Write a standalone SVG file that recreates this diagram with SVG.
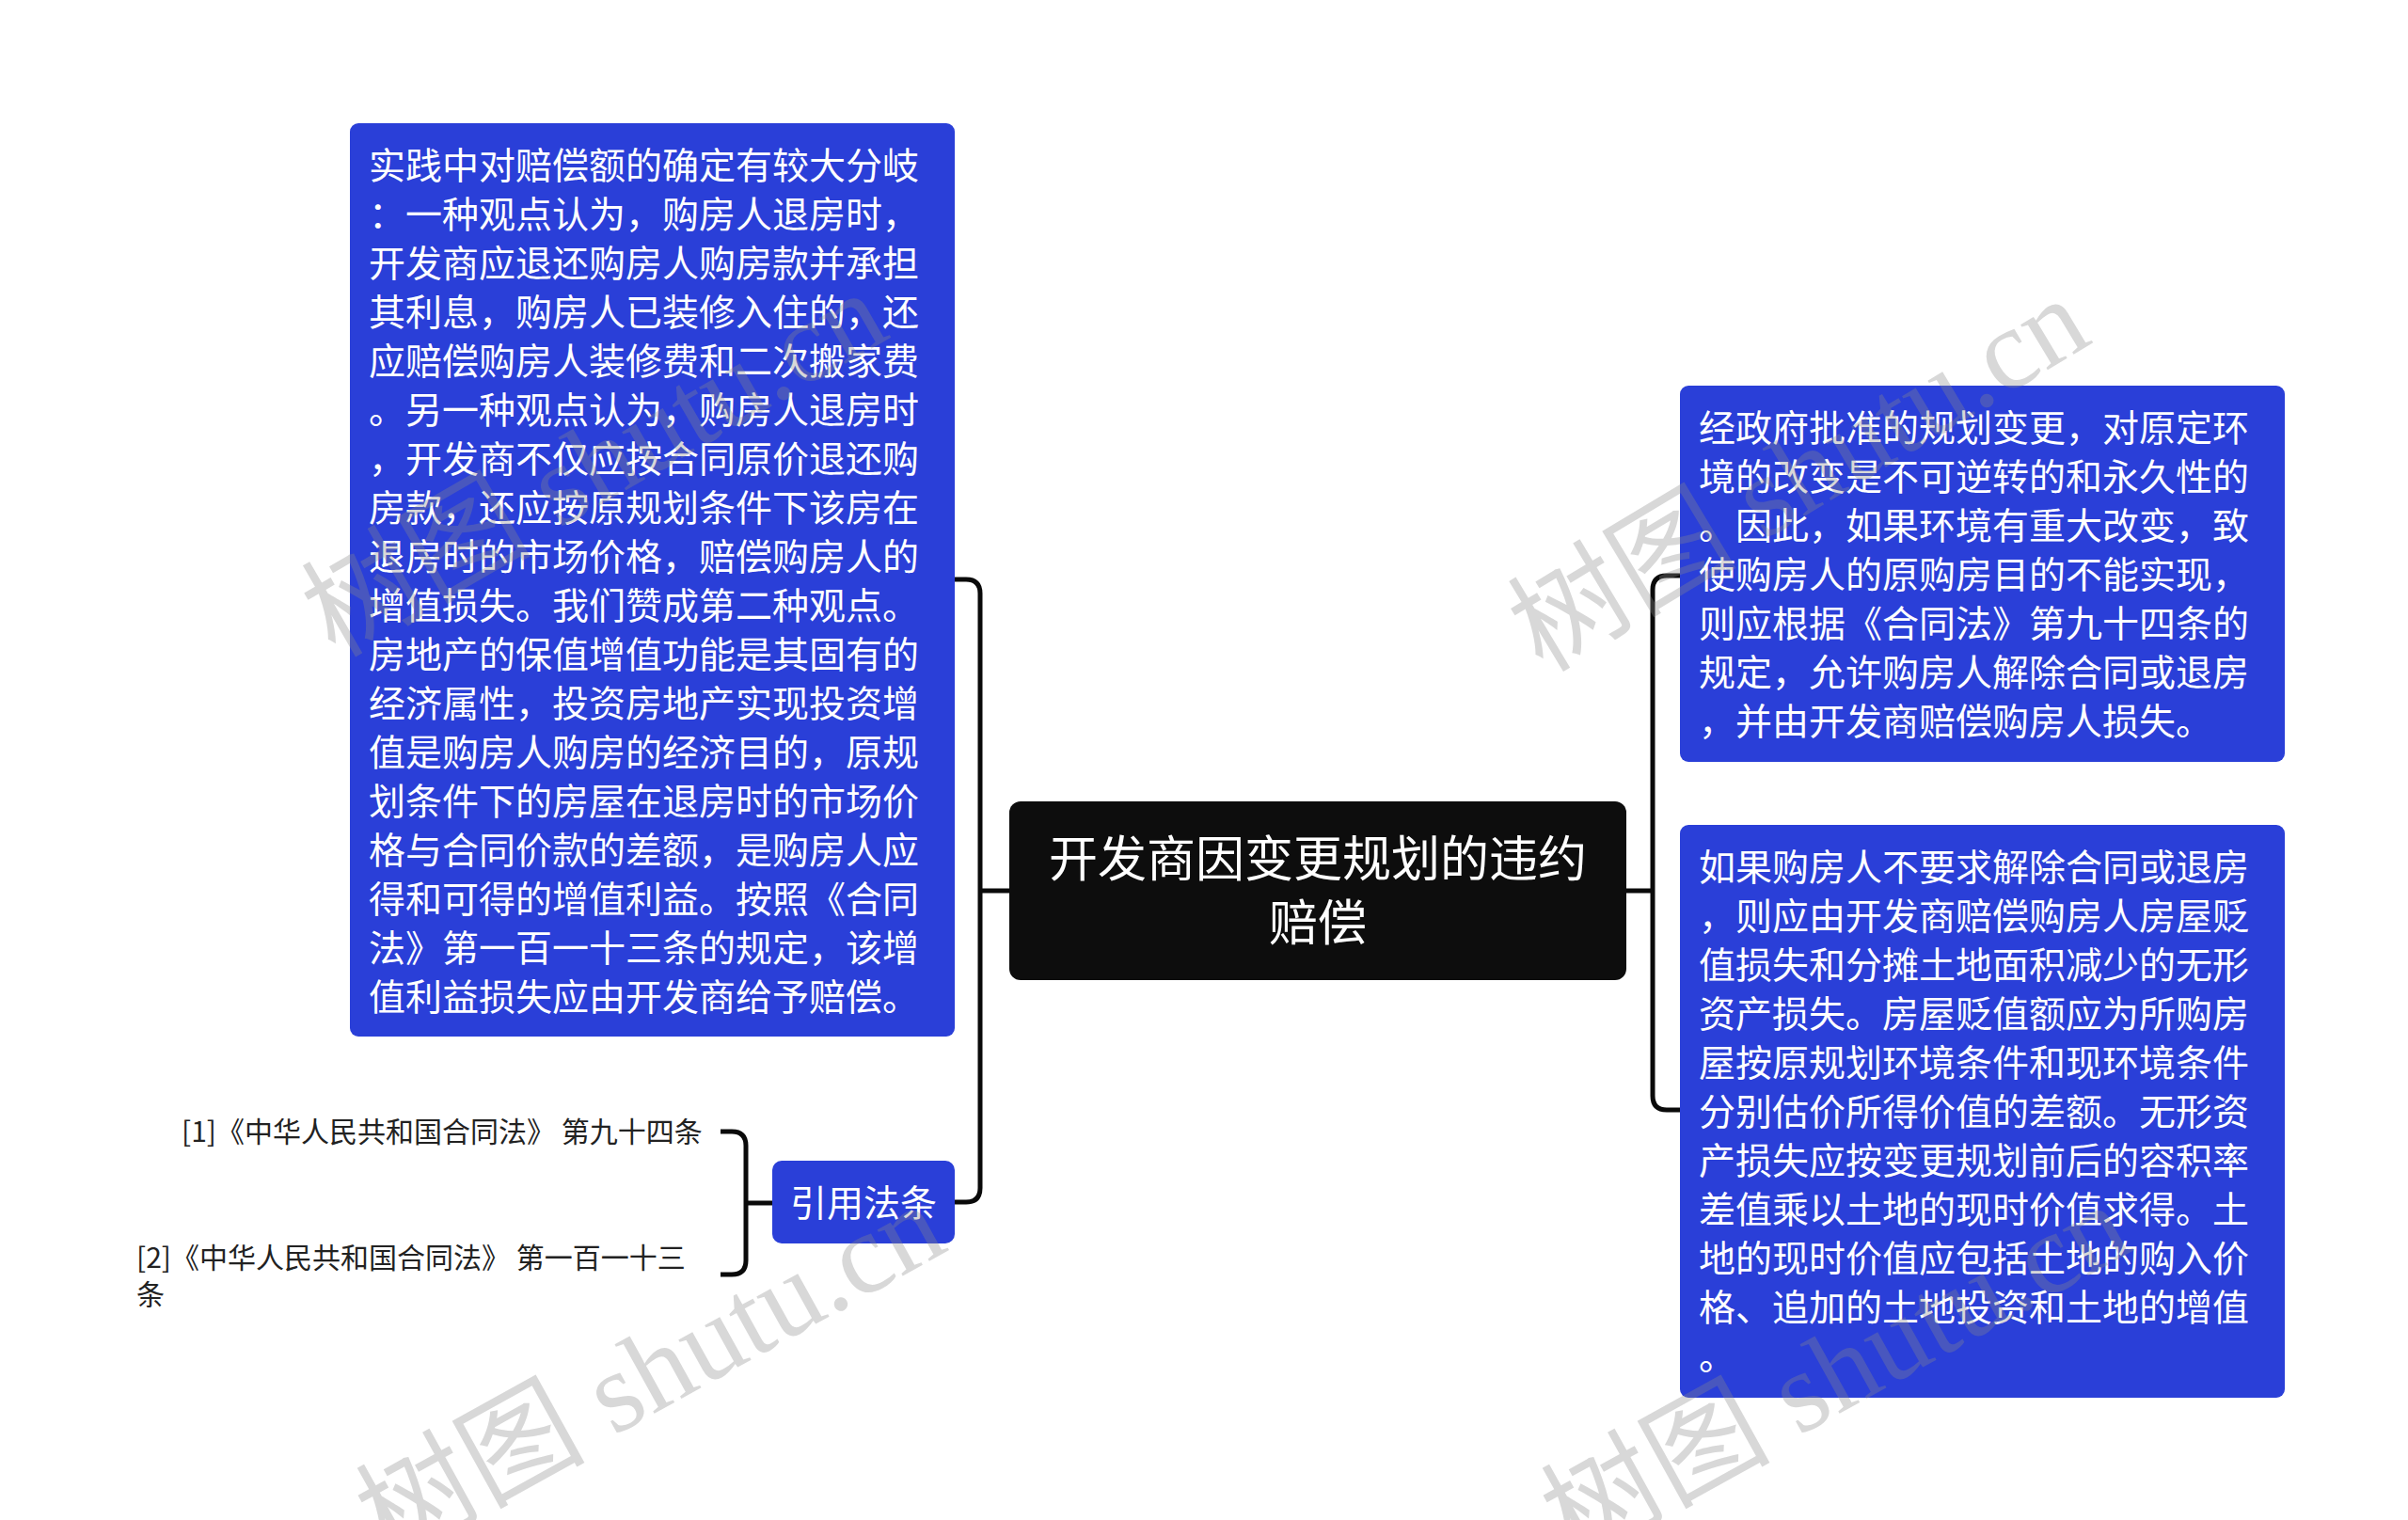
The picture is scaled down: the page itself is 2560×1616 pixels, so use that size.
<svg xmlns="http://www.w3.org/2000/svg" width="2560" height="1616" viewBox="0 0 2560 1616">
<style>
.blue{fill:#2a3fd8;}
.dark{fill:#0d0d0d;}
.t{font-family:"Noto Sans CJK SC","Noto Sans",sans-serif;fill:#ffffff;}
.body{font-size:39px;}
.cite{font-family:"Noto Sans CJK SC","Noto Sans",sans-serif;fill:#222222;font-size:30px;}
.conn{fill:none;stroke:#0a0a0a;stroke-width:5;stroke-linecap:butt;stroke-linejoin:round;}
.wm{font-family:"Liberation Serif","Noto Sans CJK SC",serif;font-size:122px;fill:#8a8a8a;opacity:0.33;}
</style>
<rect width="2560" height="1616" fill="#ffffff"/>
<g id="connectors">
<path class="conn" d="M1073,947 H1042"/>
<path class="conn" d="M1015,616 H1027 Q1042,616 1042,631 V1263 Q1042,1278 1027,1278 H1015"/>
<path class="conn" d="M1729,947 H1757"/>
<path class="conn" d="M1786,612 H1772 Q1757,612 1757,627 V1165 Q1757,1180 1772,1180 H1786"/>
<path class="conn" d="M821,1279 H793"/>
<path class="conn" d="M766,1203 H778 Q793,1203 793,1218 V1340 Q793,1355 778,1355 H766"/>
</g>
<g id="node-center">
<rect class="dark" x="1073" y="852" width="656" height="190" rx="12"/>
<text class="t" font-size="52" text-anchor="middle"><tspan x="1401" y="932">开发商因变更规划的违约</tspan><tspan x="1401" y="1000">赔偿</tspan></text>
</g>
<g id="node-left">
<rect class="blue" x="372" y="131" width="643" height="971" rx="9"/>
<text class="t body"><tspan x="392" y="190">实践中对赔偿额的确定有较大分岐</tspan><tspan x="392" dy="52">：一种观点认为，购房人退房时，</tspan><tspan x="392" dy="52">开发商应退还购房人购房款并承担</tspan><tspan x="392" dy="52">其利息，购房人已装修入住的，还</tspan><tspan x="392" dy="52">应赔偿购房人装修费和二次搬家费</tspan><tspan x="392" dy="52">。另一种观点认为，购房人退房时</tspan><tspan x="392" dy="52">，开发商不仅应按合同原价退还购</tspan><tspan x="392" dy="52">房款，还应按原规划条件下该房在</tspan><tspan x="392" dy="52">退房时的市场价格，赔偿购房人的</tspan><tspan x="392" dy="52">增值损失。我们赞成第二种观点。</tspan><tspan x="392" dy="52">房地产的保值增值功能是其固有的</tspan><tspan x="392" dy="52">经济属性，投资房地产实现投资增</tspan><tspan x="392" dy="52">值是购房人购房的经济目的，原规</tspan><tspan x="392" dy="52">划条件下的房屋在退房时的市场价</tspan><tspan x="392" dy="52">格与合同价款的差额，是购房人应</tspan><tspan x="392" dy="52">得和可得的增值利益。按照《合同</tspan><tspan x="392" dy="52">法》第一百一十三条的规定，该增</tspan><tspan x="392" dy="52">值利益损失应由开发商给予赔偿。</tspan></text>
</g>
<g id="node-cite">
<rect class="blue" x="821" y="1234" width="194" height="88" rx="10"/>
<text class="t" font-size="39" text-anchor="middle" x="918" y="1293">引用法条</text>
</g>
<g id="node-cite1">
<text class="cite" x="193" y="1214">[1]《中华人民共和国合同法》 第九十四条</text>
</g>
<g id="node-cite2">
<text class="cite"><tspan x="145" y="1348">[2]《中华人民共和国合同法》 第一百一十三</tspan><tspan x="145" y="1387">条</tspan></text>
</g>
<g id="node-right1">
<rect class="blue" x="1786" y="410" width="643" height="400" rx="9"/>
<text class="t body"><tspan x="1806" y="469">经政府批准的规划变更，对原定环</tspan><tspan x="1806" dy="52">境的改变是不可逆转的和永久性的</tspan><tspan x="1806" dy="52">。因此，如果环境有重大改变，致</tspan><tspan x="1806" dy="52">使购房人的原购房目的不能实现，</tspan><tspan x="1806" dy="52">则应根据《合同法》第九十四条的</tspan><tspan x="1806" dy="52">规定，允许购房人解除合同或退房</tspan><tspan x="1806" dy="52">，并由开发商赔偿购房人损失。</tspan></text>
</g>
<g id="node-right2">
<rect class="blue" x="1786" y="877" width="643" height="609" rx="9"/>
<text class="t body"><tspan x="1806" y="936">如果购房人不要求解除合同或退房</tspan><tspan x="1806" dy="52">，则应由开发商赔偿购房人房屋贬</tspan><tspan x="1806" dy="52">值损失和分摊土地面积减少的无形</tspan><tspan x="1806" dy="52">资产损失。房屋贬值额应为所购房</tspan><tspan x="1806" dy="52">屋按原规划环境条件和现环境条件</tspan><tspan x="1806" dy="52">分别估价所得价值的差额。无形资</tspan><tspan x="1806" dy="52">产损失应按变更规划前后的容积率</tspan><tspan x="1806" dy="52">差值乘以土地的现时价值求得。土</tspan><tspan x="1806" dy="52">地的现时价值应包括土地的购入价</tspan><tspan x="1806" dy="52">格、追加的土地投资和土地的增值</tspan><tspan x="1806" dy="52">。</tspan></text>
</g>
<g id="watermarks">
<text class="wm" transform="translate(412,1660) rotate(-29)">树图 shutu.cn</text>
<text class="wm" transform="translate(1672,1660) rotate(-29)">树图 shutu.cn</text>
<text class="wm" transform="translate(1640,716) rotate(-31)">树图 shutu.cn</text>
<text class="wm" transform="translate(356,700) rotate(-30)">树图 shutu.cn</text>
</g>
</svg>
